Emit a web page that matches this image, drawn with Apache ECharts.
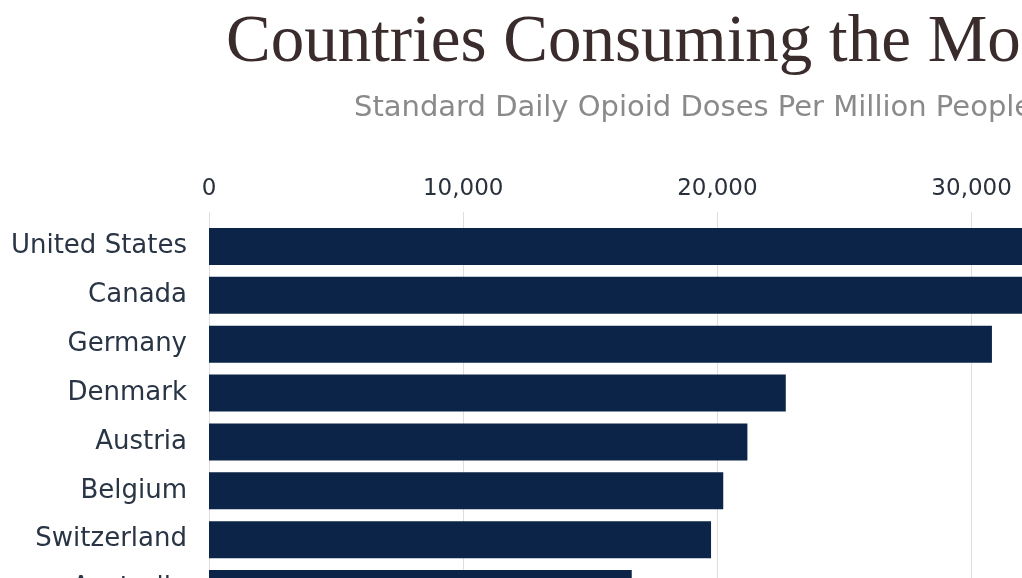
<!DOCTYPE html>
<html>
<head>
<meta charset="utf-8">
<title>Countries Consuming the Most Opioids</title>
<script src="https://cdn.jsdelivr.net/npm/echarts@6/dist/echarts.min.js"></script>
<style>
  html, body { margin: 0; padding: 0; background: #ffffff; overflow: hidden; }
  #chart { width: 1600px; height: 700px; }
</style>
</head>
<body>
<div id="chart"></div>
<script>
// Standard daily opioid doses per million people, highest consumers first
const countries = ['United States', 'Canada', 'Germany', 'Denmark', 'Austria', 'Belgium', 'Switzerland', 'Australia'];
const doses = [47580, 34440, 30800, 22690, 21180, 20230, 19750, 16630];
const doseTicks = [0, 10000, 20000, 30000, 40000, 50000];

const titleText = 'Countries Consuming the Most Opioids';
const subtitleText = 'Standard Daily Opioid Doses Per Million People';

const chart = echarts.init(document.getElementById('chart'), null, { renderer: 'canvas' });

chart.setOption({
  backgroundColor: '#ffffff',
  animation: false,
  title: [
    {
      text: titleText,
      left: 226,
      top: 10,
      padding: 0,
      textStyle: {
        fontFamily: 'Liberation Serif',
        fontSize: 67,
        fontWeight: 'normal',
        color: '#3a2c2c'
      }
    },
    {
      text: subtitleText,
      left: 354,
      top: 94,
      padding: 0,
      textStyle: {
        fontFamily: 'DejaVu Sans',
        fontSize: 29,
        fontWeight: 'normal',
        color: '#8a8a8a'
      }
    }
  ],
  grid: {
    left: 209,
    top: 222,
    width: 1271,
    height: 391,
    containLabel: false
  },
  xAxis: {
    type: 'value',
    position: 'top',
    min: doseTicks[0],
    max: doseTicks[doseTicks.length - 1],
    interval: doseTicks[1] - doseTicks[0],
    axisLine: { show: false },
    axisTick: {
      show: true,
      inside: false,
      length: 10,
      lineStyle: { color: '#dedede', width: 1 }
    },
    splitLine: {
      show: true,
      lineStyle: { color: '#dedede', width: 1 }
    },
    axisLabel: {
      margin: 21,
      fontFamily: 'DejaVu Sans',
      fontSize: 23,
      color: '#2a313c',
      formatter: v => v.toLocaleString('en-US')
    }
  },
  yAxis: {
    type: 'category',
    inverse: true,
    data: countries,
    axisLine: { show: false },
    axisTick: { show: false },
    axisLabel: {
      margin: 22,
      fontFamily: 'DejaVu Sans',
      fontSize: 26,
      color: '#293545'
    }
  },
  series: [
    {
      type: 'bar',
      data: doses,
      barWidth: 37,
      itemStyle: { color: '#0b2447' }
    }
  ]
});
</script>
</body>
</html>
